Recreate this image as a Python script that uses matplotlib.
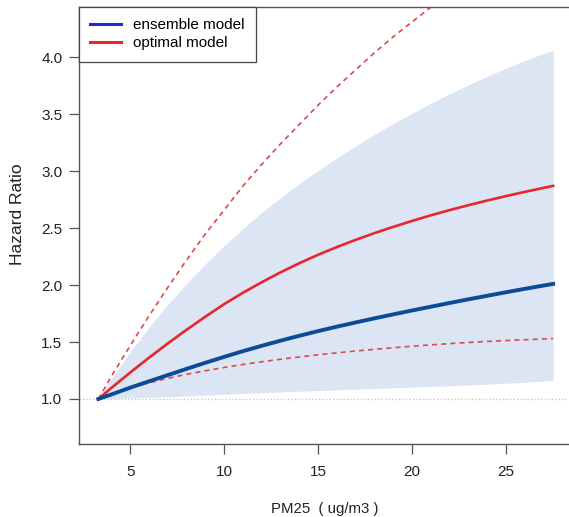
import numpy as np
import matplotlib.pyplot as plt
from matplotlib.lines import Line2D

plt.rcParams['font.family'] = ['Liberation Sans', 'DejaVu Sans']

# PM2.5 concentration (ug/m3)
pm25 = [3.3, 4, 5, 6, 7, 8, 9, 10, 11, 12, 13, 14, 15, 16, 17, 18, 19, 20,
        21, 22, 23, 24, 25, 26, 27, 27.5]

# ensemble model with its interval (shaded band)
ens_hr = [1.000, 1.040, 1.100, 1.155, 1.210, 1.265, 1.318, 1.370, 1.420, 1.467, 1.512,
          1.555, 1.596, 1.635, 1.672, 1.708, 1.743, 1.777, 1.810, 1.843, 1.875, 1.906,
          1.937, 1.967, 1.996, 2.010]
ens_lo = [1.000, 1.002, 1.008, 1.014, 1.020, 1.027, 1.034, 1.041, 1.048, 1.055, 1.062,
          1.068, 1.074, 1.080, 1.086, 1.092, 1.098, 1.104, 1.110, 1.116, 1.123, 1.130,
          1.138, 1.147, 1.157, 1.163]
ens_hi = [1.000, 1.180, 1.415, 1.630, 1.830, 2.015, 2.187, 2.347, 2.497, 2.637, 2.768,
          2.891, 3.007, 3.117, 3.222, 3.322, 3.417, 3.508, 3.595, 3.678, 3.757, 3.832,
          3.903, 3.970, 4.033, 4.060]

# optimal model with its interval (dashed lines)
opt_hr = [1.000, 1.098, 1.233, 1.363, 1.488, 1.608, 1.723, 1.833, 1.933, 2.025, 2.112,
          2.192, 2.266, 2.334, 2.397, 2.456, 2.511, 2.563, 2.612, 2.658, 2.701, 2.742,
          2.781, 2.818, 2.853, 2.870]
opt_lo = [1.000, 1.048, 1.098, 1.142, 1.182, 1.217, 1.248, 1.277, 1.303, 1.327, 1.349,
          1.369, 1.388, 1.405, 1.421, 1.436, 1.450, 1.463, 1.475, 1.486, 1.496, 1.505,
          1.513, 1.520, 1.527, 1.530]
opt_hi_x = [3.3, 4, 5, 6, 7, 8, 9, 10, 11, 12, 13, 14, 15, 16, 17, 18, 19, 20, 21, 22]
opt_hi = [1.00, 1.20, 1.47, 1.73, 1.98, 2.22, 2.45, 2.66, 2.87, 3.06, 3.24, 3.41, 3.58,
          3.74, 3.89, 4.04, 4.18, 4.31, 4.44, 4.56]

fig = plt.figure(figsize=(5.69, 5.17), dpi=100)
ax = fig.add_axes([79 / 569, 73 / 517, 492 / 569, 437 / 517])

ax.fill_between(pm25, ens_lo, ens_hi, color='#dbe5f3', lw=0)
ax.axhline(1.0, color='#c8c8c8', lw=1.0, ls=(0, (1, 1.5)))
ax.plot(opt_hi_x, opt_hi, color='#e0474c', lw=1.2, ls=(0, (3, 2.5)))
ax.plot(pm25, opt_lo, color='#e0474c', lw=1.2, ls=(0, (3, 2.5)))
ax.plot(pm25, opt_hr, color='#e8262b', lw=1.9)
ax.plot(pm25, ens_hr, color='#0c4c97', lw=2.8)

ax.set_xlim(2.27, 28.45)
ax.set_ylim(0.605, 4.44)
ax.set_xticks([5, 10, 15, 20, 25])
ax.set_yticks([1.0, 1.5, 2.0, 2.5, 3.0, 3.5, 4.0])
ax.set_yticklabels(['1.0', '1.5', '2.0', '2.5', '3.0', '3.5', '4.0'])
ax.tick_params(direction='out', length=7, width=0.9, colors='#555555',
               labelcolor='#222222', labelsize=11, pad=5)
ax.tick_params(axis='x', pad=8)
for s in ax.spines.values():
    s.set_color('#555555')
    s.set_linewidth(1.0)

ax.set_xlabel('PM25  ( ug/m3 )', fontsize=10.8, color='#222222', labelpad=17)
ax.set_ylabel('Hazard Ratio', fontsize=12.5, color='#222222')
ax.yaxis.set_label_coords(-0.11, 0.525)

handles = [Line2D([], [], color='#1f2bd8', lw=2.2),
           Line2D([], [], color='#e8262b', lw=2.2)]
leg = ax.legend(handles, ['ensemble model', 'optimal model'], loc='upper left',
                bbox_to_anchor=(0, 1), borderaxespad=0, fancybox=False,
                framealpha=1, edgecolor='#444444', fontsize=11,
                handlelength=2.0, handletextpad=0.8, borderpad=0.75,
                labelspacing=0.25)
leg.get_frame().set_linewidth(0.9)

fig.savefig('out.png', dpi=100)
